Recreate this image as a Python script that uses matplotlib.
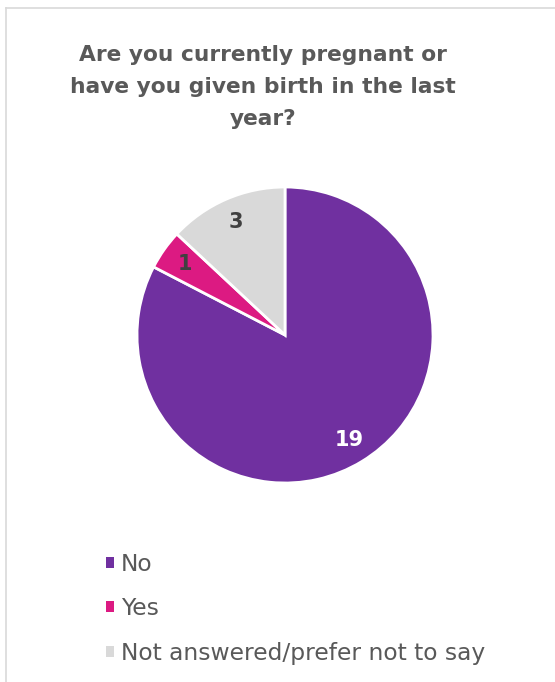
import matplotlib.pyplot as plt
from matplotlib.patches import Patch
from matplotlib.lines import Line2D

title = "Are you currently pregnant or\nhave you given birth in the last\nyear?"
labels = ["No", "Yes", "Not answered/prefer not to say"]
counts = [19, 1, 3]
colors = ["#7030A0", "#DC1A82", "#D9D9D9"]
label_colors = ["white", "#404040", "#404040"]

fig = plt.figure(figsize=(5.55, 6.82), dpi=100)

# chart frame (only top and left edge are visible)
fig.add_artist(Line2D([6 / 555, 6 / 555], [0, 1 - 8 / 682], color="#D9D9D9", lw=1.2))
fig.add_artist(Line2D([6 / 555, 1], [1 - 8 / 682, 1 - 8 / 682], color="#D9D9D9", lw=1.2))

fig.text(263 / 555, 1 - 87 / 682, title, ha="center", va="center", fontsize=15.7,
         fontweight="bold", color="#595959", linespacing=1.72)

cx, cy, r = 285 / 555, 1 - 335 / 682, 148
ax = fig.add_axes([cx - r / 555, cy - r / 682, 2 * r / 555, 2 * r / 682])
wedges, texts, autotexts = ax.pie(
    counts, colors=colors, startangle=90, counterclock=False,
    autopct=lambda p: f"{round(p * sum(counts) / 100)}", pctdistance=0.83,
    wedgeprops=dict(edgecolor="white", linewidth=2),
    textprops=dict(fontsize=15, fontweight="bold"))
for t, c in zip(autotexts, label_colors):
    t.set_color(c)
ax.set_xlim(-1, 1)
ax.set_ylim(-1, 1)
ax.set_aspect("equal")

handles = [Patch(facecolor=c, edgecolor="none") for c in colors]
leg = fig.legend(handles, labels, loc="upper left", bbox_to_anchor=(94 / 555, 1 - 541 / 682),
                 frameon=False, fontsize=16.8, handlelength=0.35, handleheight=0.35,
                 handletextpad=0.3, labelspacing=0.92, borderpad=0)
for t in leg.get_texts():
    t.set_color("#595959")

fig.savefig("out.png", dpi=100)
